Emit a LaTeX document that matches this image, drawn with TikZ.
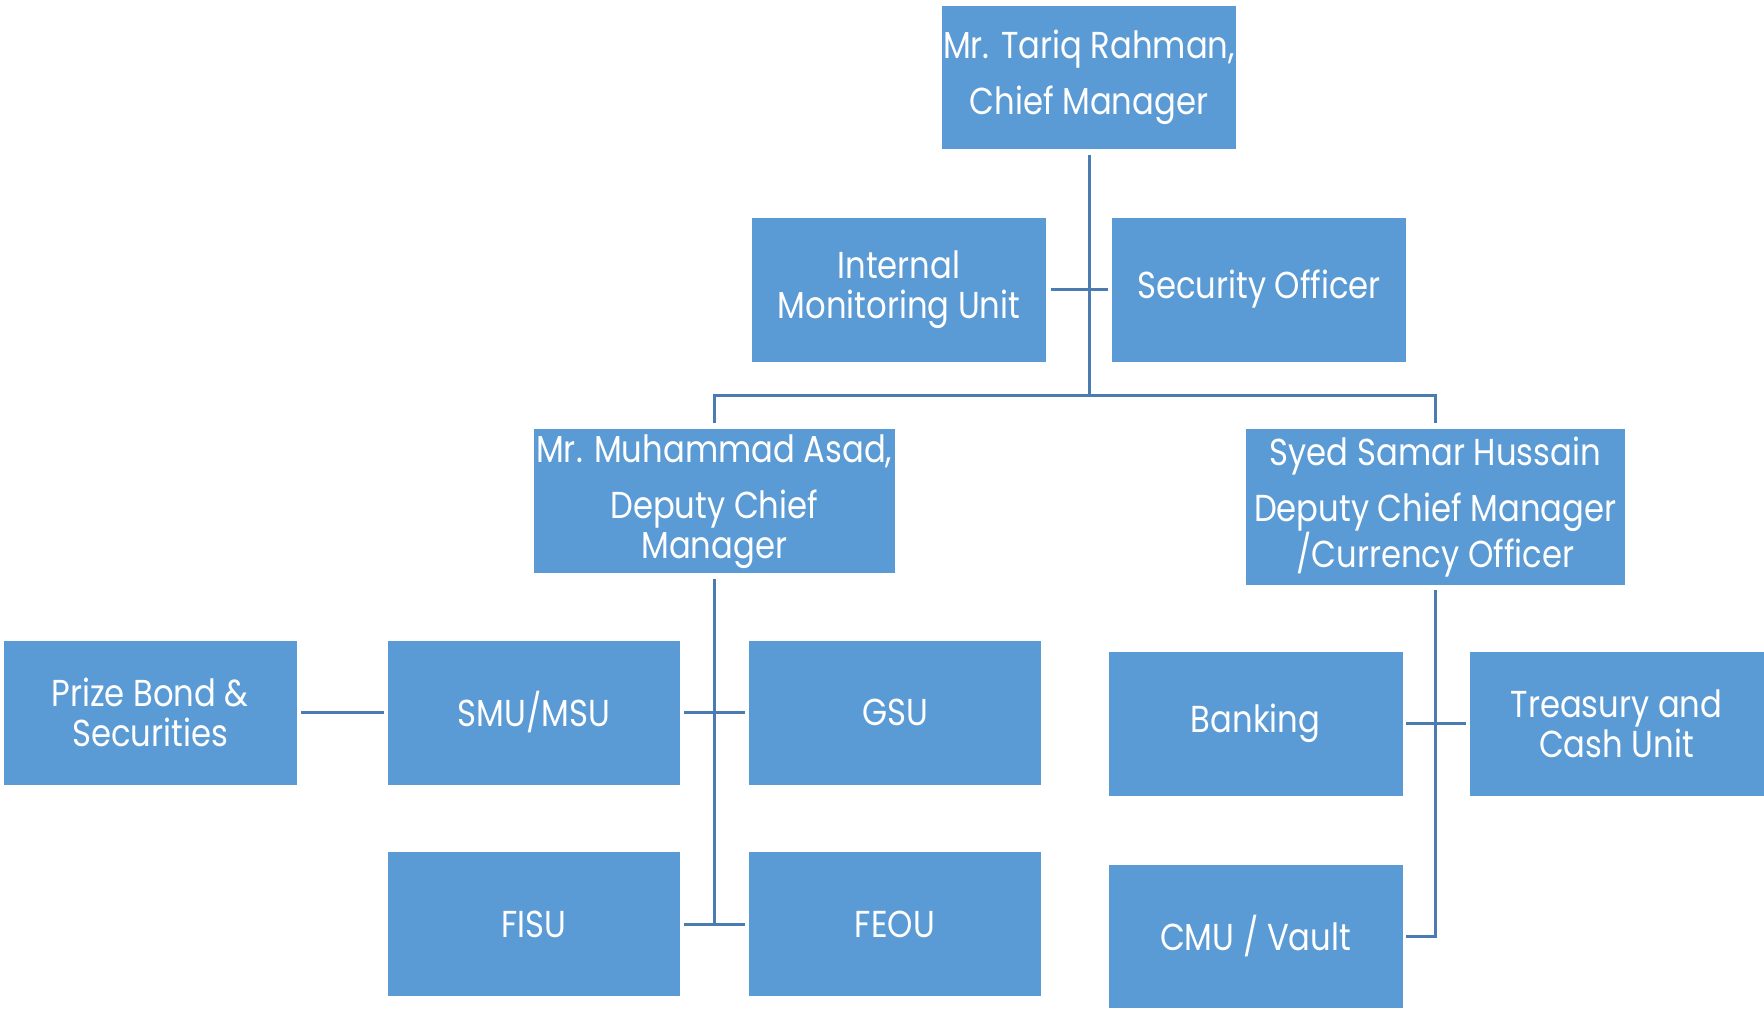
\documentclass[tikz,border=0pt]{standalone}
\usepackage{fontspec}
\setmainfont{Poppins}[FakeStretch=0.86]
\definecolor{boxblue}{HTML}{5B9BD5}
\definecolor{lineblue}{HTML}{4A7CB2}
\begin{document}
\begin{tikzpicture}[x=1pt,y=-1pt,
  box/.style={draw=white, line width=0.8pt, fill=boxblue, text=white, inner sep=0pt,
    align=center, font=\fontsize{37.5}{40}\selectfont},
  conn/.style={draw=lineblue, line width=3pt}]
\useasboundingbox (0,0) rectangle (1764,1013);
% boxes
\node[box, minimum width=295pt, minimum height=144pt] (top) at (1089,77.6) {Mr. Tariq Rahman,\\[16pt]Chief Manager};
\node[box, minimum width=295pt, minimum height=145pt] (imu) at (899,289.5) {Internal\\Monitoring Unit};
\node[box, minimum width=295pt, minimum height=145pt] (so) at (1259,289.5) {Security Officer};
\node[box, minimum width=362.5pt, minimum height=145pt] (asad) at (714.25,501.2) {Mr. Muhammad Asad,\\[16pt]Deputy Chief\\Manager};
\node[box, minimum width=380.6pt, minimum height=156.4pt] (syed) at (1435.3,506.8) {Syed Samar Hussain\\[16pt]Deputy Chief Manager\\/Currency Officer};
\node[box, minimum width=293.6pt, minimum height=145pt] (prize) at (150.2,712.5) {Prize Bond \&\\Securities};
\node[box, minimum width=293.6pt, minimum height=145pt] (smu) at (533.8,712.5) {SMU/MSU};
\node[box, minimum width=293.7pt, minimum height=145pt] (gsu) at (894.9,712.5) {GSU};
\node[box, minimum width=293.6pt, minimum height=145pt] (fisu) at (533.8,924.2) {FISU};
\node[box, minimum width=293.7pt, minimum height=145pt] (feou) at (894.9,924.2) {FEOU};
\node[box, minimum width=295pt, minimum height=145.5pt] (banking) at (1255.5,723.75) {Banking};
\node[box, minimum width=295pt, minimum height=145.5pt] (treasury) at (1616.5,723.75) {Treasury and\\Cash Unit};
\node[box, minimum width=295pt, minimum height=144pt] (cmu) at (1255.5,936) {CMU / Vault};
% connectors
\coordinate (bar) at (1089,395);
\draw[conn] ([yshift=-5pt]top.south) -- (bar);
\draw[conn] ([yshift=5pt]asad.north) -- (asad.north |- bar) -- (syed.north |- bar) -- ([yshift=5pt]syed.north);
\draw[conn] ([xshift=4pt]imu.east) -- ([xshift=-3pt]so.west);
\draw[conn] ([yshift=-5pt]asad.south) -- (asad.south |- fisu.east);
\draw[conn] ([xshift=3pt]smu.east) -- ([xshift=-3pt]gsu.west);
\draw[conn] ([xshift=3pt]fisu.east) -- ([xshift=-3pt]feou.west);
\draw[conn] ([xshift=4pt]prize.east) -- ([xshift=-3pt]smu.west);
\draw[conn] ([yshift=-5pt]syed.south) |- ([xshift=3pt]cmu.east);
\draw[conn] ([xshift=3pt]banking.east) -- ([xshift=-3pt]treasury.west);
\end{tikzpicture}
\end{document}
